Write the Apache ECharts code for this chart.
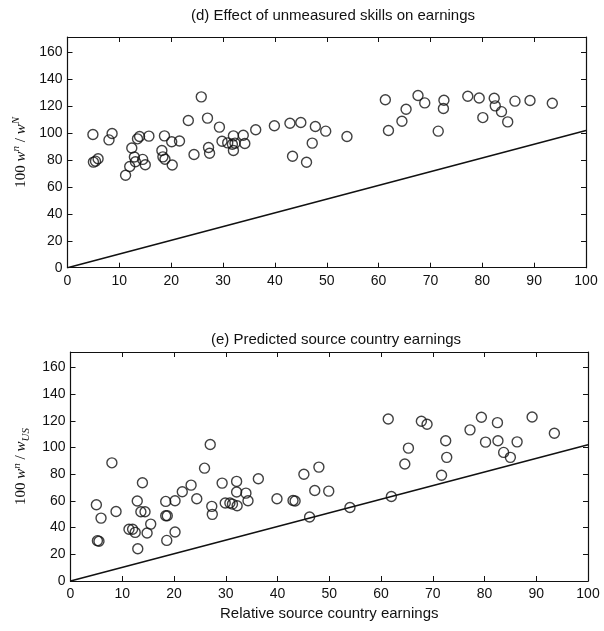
<!DOCTYPE html>
<html>
<head>
<meta charset="utf-8">
<script src="https://cdn.jsdelivr.net/npm/echarts@6/dist/echarts.min.js"></script>
<style>
  html, body { margin: 0; padding: 0; background: #fff; }
  #chart { width: 604px; height: 631px; }
</style>
</head>
<body>
<div id="chart"></div>
<script>
// (d) effect of unmeasured skills
var skillX = [4.9, 5.0, 5.4, 5.9, 8.0, 8.6, 11.2, 12.0, 12.4, 12.9, 13.1, 13.5, 13.9, 14.5, 15.0, 15.7,
  18.2, 18.7, 18.4, 18.8, 20.2, 20.1, 21.6, 23.3, 24.4, 25.8, 27.0, 27.2, 27.4, 29.3, 29.8, 30.9,
  31.8, 32.0, 32.0, 32.3, 33.9, 34.2, 36.3, 39.9, 42.9, 43.4, 45.0, 46.1, 47.2, 47.8, 49.8,
  53.9, 61.3, 61.9, 64.5, 65.3, 67.6, 68.9, 71.5, 72.5, 72.6, 77.2, 79.4, 80.1, 82.3, 82.5,
  83.7, 84.9, 86.3, 89.2, 93.5]
var skillY = [99.0, 78.5, 79.2, 81.0, 95.0, 99.8, 68.7, 75.2, 89.0, 82.3, 78.8, 95.8, 97.5, 80.5, 76.5, 97.8,
  87.1, 98.0, 82.4, 80.6, 76.4, 93.6, 94.2, 109.4, 84.1, 127.0, 111.2, 89.3, 85.1, 104.5, 94.0, 92.8,
  91.8, 98.0, 87.1, 92.6, 98.5, 92.3, 102.5, 105.5, 107.4, 82.9, 107.9, 78.4, 92.6, 105.0, 101.5,
  97.5, 124.8, 102.0, 108.9, 117.8, 128.0, 122.5, 101.5, 118.3, 124.5, 127.5, 126.2, 111.6, 126.0, 120.3,
  116.0, 108.4, 123.8, 124.3, 122.3]

// (e) predicted source country earnings
var sourceX = [5.0, 5.2, 5.5, 5.9, 8.0, 8.8, 11.3, 12.0, 12.5, 12.9, 13.0, 13.9, 13.6, 14.4, 14.8, 15.5,
  18.4, 18.4, 18.7, 18.6, 20.2, 20.2, 21.6, 23.3, 24.4, 25.9, 27.0, 27.3, 27.4, 29.3, 29.9, 30.8,
  31.3, 32.1, 32.1, 32.2, 33.9, 34.3, 36.3, 39.9, 43.0, 43.4, 45.1, 46.2, 47.2, 48.0, 49.9,
  54.0, 61.4, 62.0, 64.6, 65.3, 67.8, 68.9, 71.7, 72.5, 72.7, 77.2, 79.4, 80.2, 82.5, 82.6,
  83.7, 85.0, 86.3, 89.2, 93.5]
var sourceY = [57.1, 30.2, 29.8, 47.1, 88.5, 52.1, 38.7, 38.7, 36.4, 59.9, 24.2, 73.6, 51.9, 51.9, 35.9, 42.6,
  59.6, 48.9, 48.9, 30.4, 60.1, 36.7, 66.8, 71.8, 61.6, 84.5, 102.2, 55.9, 49.9, 73.3, 58.4, 58.4,
  57.6, 74.6, 66.6, 56.4, 65.8, 60.1, 76.6, 61.6, 60.3, 59.9, 80.0, 47.9, 67.8, 85.3, 67.3,
  55.1, 121.3, 63.3, 87.6, 99.5, 119.6, 117.4, 79.2, 105.0, 92.6, 113.2, 122.6, 104.0, 118.6, 105.0,
  96.3, 92.6, 104.2, 122.8, 110.7]

// reference line
var lineX = [0, 100]
var lineY = [0, 102]

var xTicks = [0, 10, 20, 30, 40, 50, 60, 70, 80, 90, 100]
var yTicks = [0, 20, 40, 60, 80, 100, 120, 140, 160]
var yMax = 171.5

var titles = ['(d) Effect of unmeasured skills on earnings', '(e) Predicted source country earnings']
var xName = 'Relative source country earnings'

var ink = '#111'
var sans = 'Liberation Sans'
var serif = 'Liberation Serif'

function pairs(xs, ys) {
  var out = []
  for (var i = 0; i < xs.length; i++) out.push([xs[i], ys[i]])
  return out
}

var chart = echarts.init(document.getElementById('chart'))

var grids = [
  { left: 67.5, top: 37, width: 518.5, height: 230.7 },
  { left: 70.5, top: 352, width: 517.5, height: 229 }
]

var axisLine = { show: true, onZero: false, lineStyle: { color: ink, width: 1.2 } }
var axisTick = { show: true, inside: true, length: 5, lineStyle: { color: ink, width: 1 } }
var labelFont = { color: ink, fontFamily: sans, fontSize: 14 }

var richName = {
  n: { fontFamily: serif, fontSize: 15, color: ink, lineHeight: 20 },
  w: { fontFamily: serif, fontSize: 15, fontStyle: 'italic', color: ink, lineHeight: 20 },
  sup: { fontFamily: serif, fontSize: 11, fontStyle: 'italic', color: ink, verticalAlign: 'top', lineHeight: 20 },
  sub: { fontFamily: serif, fontSize: 11, fontStyle: 'italic', color: ink, verticalAlign: 'bottom', lineHeight: 20 }
}
var yNames = [
  '{n|100 }{w|w}{sup|n}{n| / }{w|w}{sup|N}',
  '{n|100 }{w|w}{sup|n}{n| / }{w|w}{sub|US}'
]

var xAxes = [], yAxes = [], series = []
for (var g = 0; g < 2; g++) {
  xAxes.push({
    type: 'value', gridIndex: g, position: 'bottom',
    min: xTicks[0], max: xTicks[xTicks.length - 1], interval: 10,
    splitLine: { show: false }, axisLine: axisLine, axisTick: axisTick,
    axisLabel: Object.assign({ margin: 6 }, labelFont),
    name: g === 1 ? xName : '', nameLocation: 'middle', nameGap: 25,
    nameTextStyle: { color: ink, fontFamily: sans, fontSize: 15 }
  })
  xAxes.push({
    type: 'value', gridIndex: g, position: 'top',
    min: xTicks[0], max: xTicks[xTicks.length - 1], interval: 10,
    splitLine: { show: false }, axisLine: axisLine, axisTick: axisTick,
    axisLabel: { show: false }
  })
  yAxes.push({
    type: 'value', gridIndex: g, position: 'left',
    min: yTicks[0], max: yMax, interval: 20,
    splitLine: { show: false }, axisLine: axisLine, axisTick: axisTick,
    axisLabel: Object.assign({
      margin: 5, showMaxLabel: false,
      formatter: function (v) { return yTicks.indexOf(v) >= 0 ? String(v) : '' }
    }, labelFont),
    name: yNames[g], nameLocation: 'middle', nameRotate: 90, nameGap: 22,
    nameTextStyle: { rich: richName }
  })
  yAxes.push({
    type: 'value', gridIndex: g, position: 'right',
    min: yTicks[0], max: yMax, interval: 20,
    splitLine: { show: false }, axisLine: axisLine, axisTick: axisTick,
    axisLabel: { show: false }
  })

  series.push({
    type: 'scatter', xAxisIndex: g * 2, yAxisIndex: g * 2,
    data: g === 0 ? pairs(skillX, skillY) : pairs(sourceX, sourceY),
    symbol: 'circle', symbolSize: 10,
    itemStyle: { color: 'rgba(0,0,0,0)', borderColor: ink, borderWidth: 1.4 },
    silent: true, animation: false
  })
  series.push({
    type: 'line', xAxisIndex: g * 2, yAxisIndex: g * 2,
    data: pairs(lineX, lineY),
    showSymbol: false, lineStyle: { color: ink, width: 1.6 },
    silent: true, animation: false
  })
}

chart.setOption({
  animation: false,
  title: [
    { text: titles[0], left: 328, top: 3, textAlign: 'center',
      textStyle: { color: ink, fontFamily: sans, fontSize: 15, fontWeight: 'normal' } },
    { text: titles[1], left: 331, top: 327, textAlign: 'center',
      textStyle: { color: ink, fontFamily: sans, fontSize: 15, fontWeight: 'normal' } }
  ],
  grid: grids,
  xAxis: xAxes,
  yAxis: yAxes,
  series: series
})
</script>
</body>
</html>
